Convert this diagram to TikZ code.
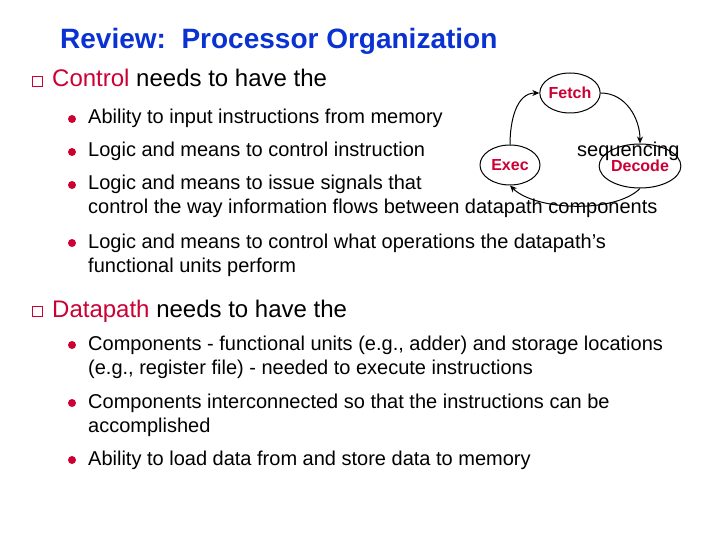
\documentclass[tikz,border=0pt]{standalone}
\usepackage{fontspec}
\setmainfont{Liberation Sans}
\usetikzlibrary{shapes.geometric,arrows.meta}

\definecolor{slidered}{RGB}{204,0,51}
\definecolor{slideblue}{RGB}{10,50,210}

\tikzset{
	lvlone/.style={anchor=base west,inner sep=0pt,font=\fontsize{24}{29}\selectfont},
	lvltwo/.style={anchor=base west,inner sep=0pt,align=left,font=\fontsize{20}{24}\selectfont},
	dot/.style={circle,fill=slidered,minimum size=8pt,inner sep=0pt},
	checkbox/.style={rectangle,draw=slidered,line width=1pt,minimum size=10pt,inner sep=0pt},
	stage/.style={ellipse,draw,line width=1pt,fill=white,minimum width=60pt,minimum height=40pt,inner sep=0pt,
		text=slidered,font=\fontsize{16}{19}\bfseries\selectfont},
	flow/.style={line width=1pt,-{Stealth[length=7pt,width=6pt]}}
}

\begin{document}
\begin{tikzpicture}[x=1pt,y=1pt]
		\useasboundingbox (0,-540) rectangle (720,0);
		% title
		\node[anchor=base west,inner sep=0pt,text=slideblue,font=\fontsize{28}{34}\bfseries\selectfont] (title) at (60,-49) {Review:\ \ Processor Organization};
		% control part (two-line nodes sit on the baseline of their last line)
		\node[checkbox] (boxctl) at (37.5,-81.5) {};
		\node[lvlone] (ctl) at (52,-87) {\textcolor{slidered}{Control} needs to have the};
		\node[dot] (dc1) at (72,-119) {};
		\node[lvltwo] (c1) at (88,-124) {Ability to input instructions from memory};
		\node[dot] (dc2) at (72,-152) {};
		\node[lvltwo] (c2) at (88,-157) {Logic and means to control instruction};
		\node[dot] (dc3) at (72,-185) {};
		\node[lvltwo] (c3) at (88,-214) {Logic and means to issue signals that\\control the way information flows between datapath components};
		\node[dot] (dc4) at (72,-243) {};
		\node[lvltwo] (c4) at (88,-272) {Logic and means to control what operations the datapath’s\\functional units perform};
		% datapath part
		\node[checkbox] (boxdp) at (37.5,-311.5) {};
		\node[lvlone] (dp) at (52,-317) {\textcolor{slidered}{Datapath} needs to have the};
		\node[dot] (dd1) at (72,-345) {};
		\node[lvltwo] (p1) at (88,-374) {Components - functional units (e.g., adder) and storage locations\\(e.g., register file) - needed to execute instructions};
		\node[dot] (dd2) at (72,-403) {};
		\node[lvltwo] (p2) at (88,-432) {Components interconnected so that the instructions can be\\accomplished};
		\node[dot] (dd3) at (72,-460) {};
		\node[lvltwo] (p3) at (88,-465) {Ability to load data from and store data to memory};
		% instruction cycle
		\node[stage] (fetch) at (570,-93) {Fetch};
		\node[stage] (exec) at (510,-165) {Exec};
		\node[stage,minimum width=64pt,minimum height=44pt] (decode) at (640,-166) {Decode};
		\draw[flow] (fetch.east) to[out=0,in=90] (decode.north);
		\draw[flow] (decode.south) to[out=-135,in=-45,looseness=0.7] (exec.south);
		\draw[flow] (exec.north) to[out=90,in=180] (fetch.west);
		\node[lvltwo] (seq) at (577,-157) {sequencing};
	\end{tikzpicture}
\end{document}
